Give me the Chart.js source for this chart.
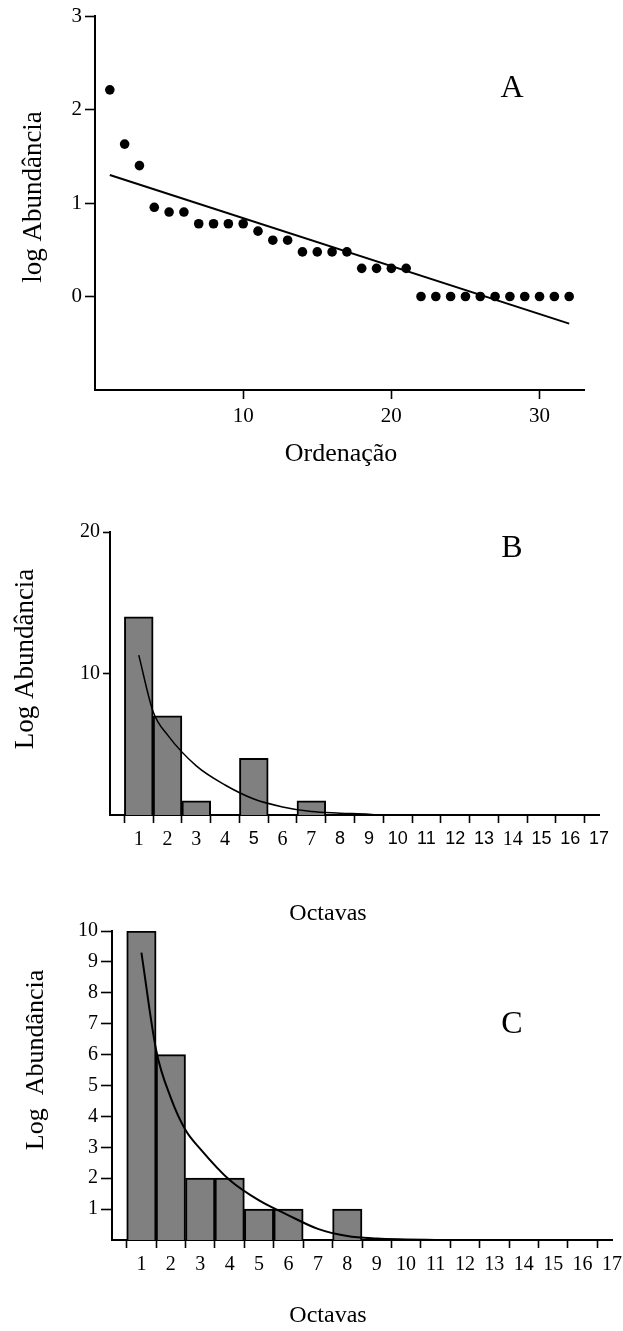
<!DOCTYPE html>
<html><head><meta charset="utf-8">
<script src="https://cdn.jsdelivr.net/npm/chart.js@4.4.0/dist/chart.umd.min.js"></script>
<style>
html,body{margin:0;padding:0;background:#fff;width:623px;height:1331px;overflow:hidden}
canvas{position:absolute;left:0}
</style></head><body>
<canvas id="cA" width="623" height="475" style="top:0px"></canvas>
<canvas id="cB" width="623" height="450" style="top:480px"></canvas>
<canvas id="cC" width="623" height="431" style="top:900px"></canvas>
<script>
// ---------- Panel A: rank / log abundance ----------
const rankA = [1,2,3,4,5,6,7,8,9,10,11,12,13,14,15,16,17,18,19,20,21,22,23,24,25,26,27,28,29,30,31,32];
const logAbundA = [2.21,1.63,1.40,0.954,0.903,0.903,0.778,0.778,0.778,0.778,0.699,0.602,0.602,0.477,0.477,0.477,0.477,0.301,0.301,0.301,0.301,0,0,0,0,0,0,0,0,0,0,0];
const fitRankA = [1, 32];
const fitLogA = [1.30, -0.29];
const yTicksA = [0, 1, 2, 3];
const xTicksA = [10, 20, 30];

// ---------- Panel B: octaves ----------
const octaveB = [1, 2, 3, 5, 7];
const countB = [14, 7, 1, 4, 1];
const curveOctB = [1, 1.5, 2, 3, 4, 5, 6, 7, 8, 9, 9.3];
const curveValB = [11.3, 7.3, 5.66, 3.47, 2.12, 1.13, 0.57, 0.24, 0.13, 0.05, 0];
const yTicksB = [10, 20];

// ---------- Panel C: octaves ----------
const octaveC = [1, 2, 3, 4, 5, 6, 8];
const countC = [10, 6, 2, 2, 1, 1, 1];
const curveOctC = [1, 1.5, 2, 2.5, 3, 4, 5, 6, 7, 8, 9, 10, 11];
const curveValC = [9.3, 6.15, 4.6, 3.56, 2.95, 1.94, 1.28, 0.8, 0.36, 0.13, 0.05, 0.02, 0];
const yTicksC = [1, 2, 3, 4, 5, 6, 7, 8, 9, 10];

const xTicksOct = [1,2,3,4,5,6,7,8,9,10,11,12,13,14,15,16,17];
const serifLabelsB = [1, 2, 3, 4, 6, 7, 14];

const SERIF = "'Liberation Serif', 'Times New Roman', serif";
const SANS = "'Liberation Sans', Arial, sans-serif";

function pts(xs, ys){ return xs.map((x,i)=>({x:x, y:ys[i]})); }

function textPlugin(items){
  return {id:'texts', afterDraw(chart){
    const ctx = chart.ctx;
    items.forEach(t=>{
      ctx.save();
      ctx.font = t.font; ctx.fillStyle = '#000';
      ctx.textAlign = 'center'; ctx.textBaseline = 'alphabetic';
      ctx.translate(t.x, t.y);
      if (t.rot) ctx.rotate(-Math.PI/2);
      ctx.fillText(t.text, 0, 0);
      ctx.restore();
    });
  }};
}

function axis(o){
  return {
    type:'linear', position:o.position, min:o.min, max:o.max, offset:false,
    afterBuildTicks: s => { s.ticks = o.ticks.map(v=>({value:v})); },
    afterFit: s => {
      if (s.isHorizontal()) s.height = o.size; else s.width = o.size;
      s.paddingLeft = 0; s.paddingRight = 0; s.paddingTop = 0; s.paddingBottom = 0;
    },
    grid:{display:true, drawOnChartArea:false, drawTicks:true, tickLength:o.tickLength, tickWidth:1.6, tickColor:'#000', color:'#000'},
    border:{display:true, color:'#000', width:2},
    ticks:{color:'#000', font:o.font, padding:o.padding, autoSkip:false, maxRotation:0, minRotation:0},
    title:{display:false}
  };
}

const common = {
  responsive:false, animation:false, devicePixelRatio:1,
  events:[],
  plugins:{legend:{display:false}, tooltip:{enabled:false}}
};

// ---- Chart A ----
new Chart(document.getElementById('cA'), {
  type:'scatter',
  data:{datasets:[
    {data:pts(rankA, logAbundA), pointRadius:4.8, pointBackgroundColor:'#000', pointBorderColor:'#000', pointBorderWidth:0, showLine:false, order:2},
    {type:'line', data:pts(fitRankA, fitLogA), showLine:true, borderColor:'#000', borderWidth:2, pointRadius:0, fill:false, order:1}
  ]},
  options:Object.assign({}, common, {
    layout:{padding:{left:0, top:16, right:39, bottom:0}},
    scales:{
      x: axis({position:'bottom', min:0, max:33, ticks:xTicksA, size:85, tickLength:9, padding:5, font:{family:SERIF, size:21}}),
      y: axis({position:'left', min:-1, max:3, ticks:yTicksA, size:95, tickLength:10, padding:3, font:{family:SERIF, size:21}})
    }
  }),
  plugins:[textPlugin([
    {text:'A', x:512, y:97, font:'32px ' + SERIF},
    {text:'Ordenação', x:341, y:461, font:'26px ' + SERIF},
    {text:'log Abundância', x:41, y:197, rot:true, font:'27px ' + SERIF}
  ])]
});

// ---- Chart B ----
new Chart(document.getElementById('cB'), {
  type:'bar',
  data:{datasets:[
    {type:'bar', data:pts(octaveB, countB), backgroundColor:'#808080', borderColor:'#000', borderWidth:2, barPercentage:1, categoryPercentage:1, order:2},
    {type:'line', data:pts(curveOctB, curveValB), borderColor:'#000', borderWidth:1.5, pointRadius:0, fill:false, tension:0.4, cubicInterpolationMode:'monotone', order:1}
  ]},
  options:Object.assign({}, common, {
    layout:{padding:{left:0, top:52, right:24, bottom:0}},
    scales:{
      x: axis({position:'bottom', min:0, max:17, ticks:xTicksOct, size:115, tickLength:8, padding:5,
        font: c => ({family: (c.tick && serifLabelsB.includes(c.tick.value)) ? SERIF : SANS, size: (c.tick && serifLabelsB.includes(c.tick.value)) ? 20 : 18})}),
      y: axis({position:'left', min:0, max:20, ticks:yTicksB, size:110, tickLength:7, padding:3, font:{family:SERIF, size:20}})
    }
  }),
  plugins:[textPlugin([
    {text:'B', x:512, y:77, font:'32px ' + SERIF},
    {text:'Octavas', x:328, y:440, font:'24px ' + SERIF},
    {text:'Log Abundância', x:33, y:179, rot:true, font:'27px ' + SERIF}
  ])]
});

// ---- Chart C ----
new Chart(document.getElementById('cC'), {
  type:'bar',
  data:{datasets:[
    {type:'bar', data:pts(octaveC, countC), backgroundColor:'#808080', borderColor:'#000', borderWidth:2, barPercentage:1, categoryPercentage:1, order:2},
    {type:'line', data:pts(curveOctC, curveValC), borderColor:'#000', borderWidth:2, pointRadius:0, fill:false, tension:0.4, cubicInterpolationMode:'monotone', order:1}
  ]},
  options:Object.assign({}, common, {
    layout:{padding:{left:0, top:31, right:11, bottom:0}},
    scales:{
      x: axis({position:'bottom', min:0, max:17, ticks:xTicksOct, size:91, tickLength:8, padding:5, font:{family:SERIF, size:20}}),
      y: axis({position:'left', min:0, max:10, ticks:yTicksC, size:112, tickLength:11, padding:3, font:{family:SERIF, size:20}})
    }
  }),
  plugins:[textPlugin([
    {text:'C', x:512, y:133, font:'32px ' + SERIF},
    {text:'Octavas', x:328, y:422, font:'24px ' + SERIF},
    {text:'Log  Abundância', x:43, y:160, rot:true, font:'26px ' + SERIF}
  ])]
});
</script>
</body></html>
